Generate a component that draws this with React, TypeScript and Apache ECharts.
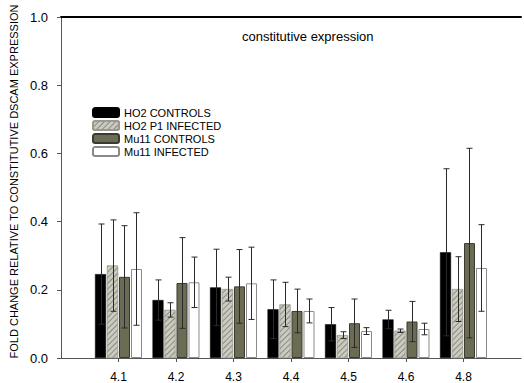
import React, { useEffect, useRef } from "react";
import * as echarts from "echarts";

const categories = ["4.1", "4.2", "4.3", "4.4", "4.5", "4.6", "4.8"];
const seriesNames = ["HO2 CONTROLS", "HO2 P1 INFECTED", "Mu11 CONTROLS", "Mu11 INFECTED"];
const ho2Controls = [0.246, 0.17, 0.207, 0.143, 0.099, 0.113, 0.31];
const ho2ControlsErr = [0.147, 0.059, 0.112, 0.086, 0.049, 0.027, 0.245];
const ho2Infected = [0.271, 0.141, 0.202, 0.157, 0.067, 0.08, 0.202];
const ho2InfectedErr = [0.134, 0.021, 0.035, 0.065, 0.01, 0.005, 0.095];
const mu11Controls = [0.238, 0.22, 0.21, 0.138, 0.102, 0.107, 0.337];
const mu11ControlsErr = [0.15, 0.133, 0.108, 0.064, 0.071, 0.059, 0.278];
const mu11Infected = [0.261, 0.222, 0.219, 0.138, 0.079, 0.085, 0.264];
const mu11InfectedErr = [0.165, 0.074, 0.106, 0.035, 0.01, 0.017, 0.127];
const yTicks = [0, 0.2, 0.4, 0.6, 0.8, 1.0];

const values = [ho2Controls, ho2Infected, mu11Controls, mu11Infected];
const errors = [ho2ControlsErr, ho2InfectedErr, mu11ControlsErr, mu11InfectedErr];

const FONT = "Liberation Sans, Arial, sans-serif";
const BAR_W = 11;
const BAR_GAP = 0.09;

const itemStyles: any[] = [
  { color: "#000000", borderColor: "#000000", borderWidth: 0.5 },
  {
    color: "#cbcbc0",
    borderColor: "#9a9a90",
    borderWidth: 0.5,
    decal: {
      symbol: "rect",
      symbolSize: 1,
      color: "#8a8a80",
      dashArrayX: [1, 0],
      dashArrayY: [1, 3],
      rotation: -Math.PI / 4,
    },
  },
  { color: "#6c6c55", borderColor: "#3a3a30", borderWidth: 1 },
  { color: "#ffffff", borderColor: "#8a8a8a", borderWidth: 1 },
];

export default function App() {
  const ref = useRef<HTMLDivElement>(null);
  useEffect(() => {
    if (!ref.current) return;
    const chart = echarts.init(ref.current, null, { renderer: "svg" });
    const axisCats = ["", ...categories, ""];
    const barSeries = values.map((vals, k) => ({
      name: seriesNames[k],
      type: "bar",
      barWidth: BAR_W,
      barGap: BAR_GAP * 100 + "%",
      data: ["-", ...vals, "-"],
      itemStyle: itemStyles[k],
      z: 2,
    }));
    const errData: any[] = [];
    values.forEach((vals, k) => {
      vals.forEach((v, i) => {
        errData.push([i + 1, v, errors[k][i], k]);
      });
    });
    const step = BAR_W * (1 + BAR_GAP);
    const errSeries = {
      type: "custom",
      name: "err",
      z: 5,
      renderItem: (params: any, api: any) => {
        const ci = api.value(0);
        const v = api.value(1);
        const e = api.value(2);
        const k = api.value(3);
        const off = (k - 1.5) * step;
        const top = api.coord([ci, v + e]);
        const bot = api.coord([ci, v - e]);
        const x = Math.round(top[0] + off) + 0.5;
        const cap = 3;
        const st = { stroke: "#2a2a2a", lineWidth: 1 };
        return {
          type: "group",
          children: [
            { type: "line", shape: { x1: x, y1: top[1], x2: x, y2: bot[1] }, style: st },
            { type: "line", shape: { x1: x - cap, y1: top[1], x2: x + cap, y2: top[1] }, style: st },
            { type: "line", shape: { x1: x - cap, y1: bot[1], x2: x + cap, y2: bot[1] }, style: st },
          ],
        };
      },
      data: errData,
    };
    chart.setOption({
      animation: false,
      title: {
        text: "constitutive expression",
        left: 237,
        top: 25,
        textStyle: { fontFamily: FONT, fontSize: 13, fontWeight: "normal", color: "#000" },
      },
      legend: {
        data: seriesNames,
        orient: "vertical",
        left: 87,
        top: 102,
        itemWidth: 26,
        itemHeight: 9,
        itemGap: 2,
        textStyle: { fontFamily: FONT, fontSize: 11, color: "#000", lineHeight: 11 },
      },
      grid: { left: 57, top: 17, bottom: 25, width: 472 },
      xAxis: [
        {
          type: "category",
          data: axisCats,
          boundaryGap: false,
          axisLine: { lineStyle: { color: "#555", width: 1 } },
          axisTick: {
            length: 4,
            interval: (i: number) => i > 0 && i < axisCats.length - 1,
            lineStyle: { color: "#555" },
          },
          axisLabel: {
            interval: 0,
            margin: 13,
            fontFamily: FONT,
            fontSize: 12,
            color: "#000",
          },
          splitLine: { show: false },
        },
        {
          type: "category",
          data: axisCats,
          position: "top",
          boundaryGap: false,
          axisLine: { lineStyle: { color: "#000", width: 2 } },
          axisTick: { show: false },
          axisLabel: { show: false },
        },
      ],
      yAxis: {
        type: "value",
        min: yTicks[0],
        max: yTicks[yTicks.length - 1],
        interval: 0.2,
        name: "FOLD CHANGE RELATIVE TO CONSTITUTIVE DSCAM EXPRESSION",
        nameLocation: "middle",
        nameGap: 42,
        nameTextStyle: { fontFamily: FONT, fontSize: 11, color: "#000", padding: [0, 0, 0, 12] },
        axisLine: { show: true, lineStyle: { color: "#555" } },
        axisTick: { show: true, length: 4, lineStyle: { color: "#555" } },
        axisLabel: {
          margin: 13,
          fontFamily: FONT,
          fontSize: 13,
          color: "#000",
          formatter: (v: number) => v.toFixed(1),
        },
        splitLine: { show: false },
      },
      series: [...barSeries, errSeries],
    });
    return () => chart.dispose();
  }, []);
  return (
    <div
      ref={ref}
      style={{ position: "absolute", left: 0, top: 0, width: 524, height: 383, background: "#fff" }}
    />
  );
}
